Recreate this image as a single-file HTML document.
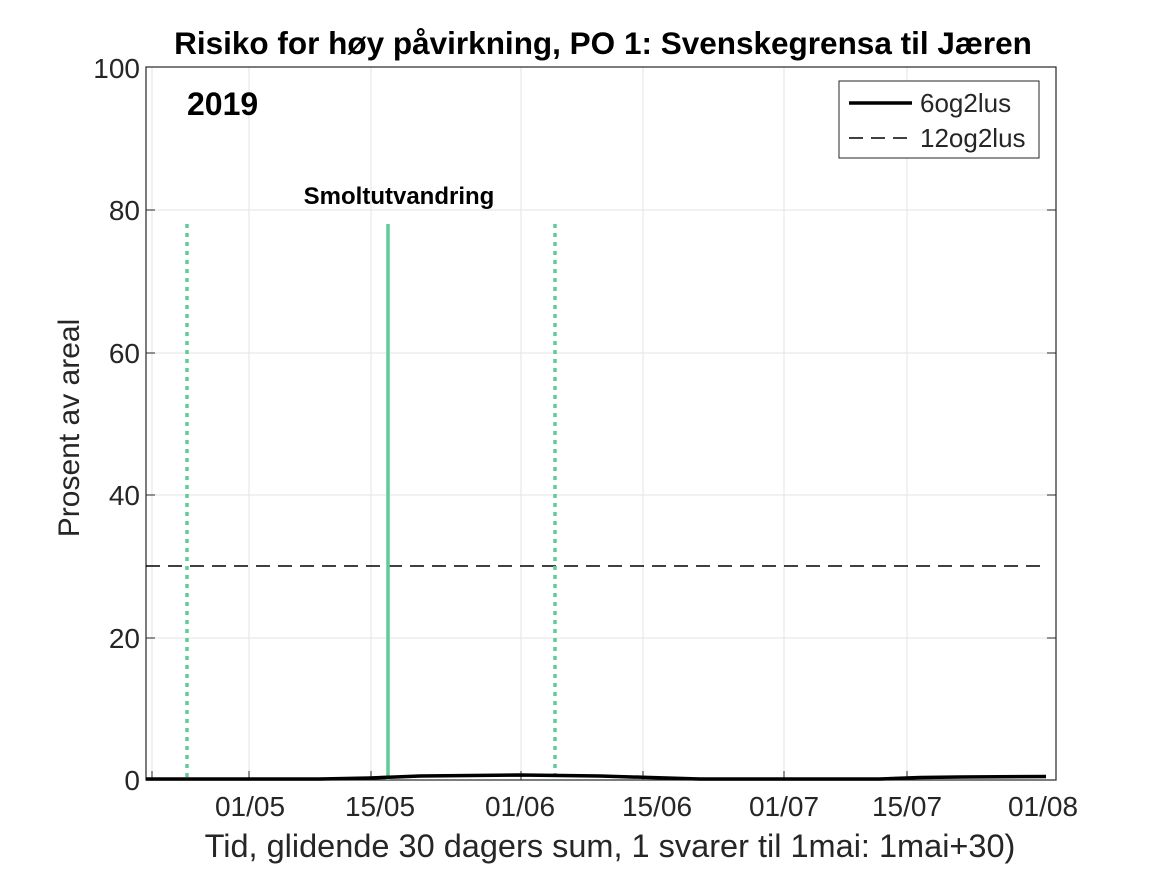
<!DOCTYPE html>
<html><head><meta charset="utf-8"><style>
body{margin:0;background:#fff;}
svg text{font-family:"Liberation Sans",sans-serif;}
</style></head><body>
<svg width="1167" height="875" viewBox="0 0 1167 875" xmlns="http://www.w3.org/2000/svg">
<rect width="1167" height="875" fill="#fff"/>
<g stroke="#e3e3e3" stroke-width="1">
<line x1="249" y1="67" x2="249" y2="780"/><line x1="371" y1="67" x2="371" y2="780"/>
<line x1="521" y1="67" x2="521" y2="780"/><line x1="643" y1="67" x2="643" y2="780"/>
<line x1="784" y1="67" x2="784" y2="780"/><line x1="907" y1="67" x2="907" y2="780"/>
<line x1="152" y1="67" x2="152" y2="780"/>
<line x1="146" y1="210" x2="1056" y2="210"/><line x1="146" y1="353" x2="1056" y2="353"/>
<line x1="146" y1="495" x2="1056" y2="495"/><line x1="146" y1="638" x2="1056" y2="638"/>
</g>
<rect x="146" y="67" width="910" height="713" fill="none" stroke="#262626" stroke-width="1.2"/>
<g stroke="#262626" stroke-width="1">
<line x1="152" y1="780" x2="152" y2="771"/><line x1="249" y1="780" x2="249" y2="771"/><line x1="371" y1="780" x2="371" y2="771"/><line x1="521" y1="780" x2="521" y2="771"/><line x1="643" y1="780" x2="643" y2="771"/><line x1="784" y1="780" x2="784" y2="771"/><line x1="907" y1="780" x2="907" y2="771"/>
<line x1="146" y1="210" x2="155" y2="210"/><line x1="146" y1="353" x2="155" y2="353"/><line x1="146" y1="495" x2="155" y2="495"/><line x1="146" y1="638" x2="155" y2="638"/>
<line x1="1056" y1="210" x2="1047" y2="210"/><line x1="1056" y1="353" x2="1047" y2="353"/><line x1="1056" y1="495" x2="1047" y2="495"/><line x1="1056" y1="638" x2="1047" y2="638"/>
</g>
<line x1="146" y1="566" x2="1046" y2="566" stroke="#000" stroke-width="1.5" stroke-dasharray="14,8"/>
<g stroke="#5fcb96" stroke-width="3.5">
<line x1="388" y1="224" x2="388" y2="780"/>
<line x1="187" y1="224" x2="187" y2="780" stroke-dasharray="4,5"/>
<line x1="555" y1="224" x2="555" y2="780" stroke-dasharray="4,5"/>
</g>
<path d="M146 779 L320 779 L370 778 L395 777 L420 776 L520 775 L600 776 L650 777.5 L700 779 L880 779 L920 777.5 L960 777 L1046 776.5" fill="none" stroke="#000" stroke-width="3.5"/>
<text x="399" y="204" font-size="24" font-weight="bold" text-anchor="middle">Smoltutvandring</text>
<text x="187" y="115" font-size="32" font-weight="bold">2019</text>
<text x="603" y="54" font-size="31.5" font-weight="bold" text-anchor="middle">Risiko for høy påvirkning, PO 1: Svenskegrensa til Jæren</text>
<g font-size="28" fill="#262626" text-anchor="end">
<text x="140" y="790">0</text><text x="140" y="648">20</text><text x="140" y="505">40</text><text x="140" y="363">60</text><text x="140" y="220">80</text><text x="140" y="78">100</text>
</g>
<g font-size="28" fill="#262626" text-anchor="middle">
<text x="250" y="816">01/05</text><text x="380" y="816">15/05</text><text x="520" y="816">01/06</text><text x="657" y="816">15/06</text><text x="784" y="816">01/07</text><text x="907" y="816">15/07</text><text x="1043" y="816">01/08</text>
</g>
<text x="610" y="857" font-size="32.5" fill="#262626" text-anchor="middle">Tid, glidende 30 dagers sum, 1 svarer til 1mai: 1mai+30)</text>
<text transform="translate(79,428) rotate(-90)" font-size="30" fill="#262626" text-anchor="middle">Prosent av areal</text>
<rect x="839" y="81" width="200" height="77" fill="#fff" stroke="#262626" stroke-width="1"/>
<line x1="849" y1="103" x2="912" y2="103" stroke="#000" stroke-width="3.5"/>
<line x1="849" y1="138" x2="912" y2="138" stroke="#000" stroke-width="1.5" stroke-dasharray="14,8"/>
<text x="920" y="112" font-size="26" fill="#262626">6og2lus</text>
<text x="920" y="147" font-size="26" fill="#262626">12og2lus</text>
</svg>
</body></html>
